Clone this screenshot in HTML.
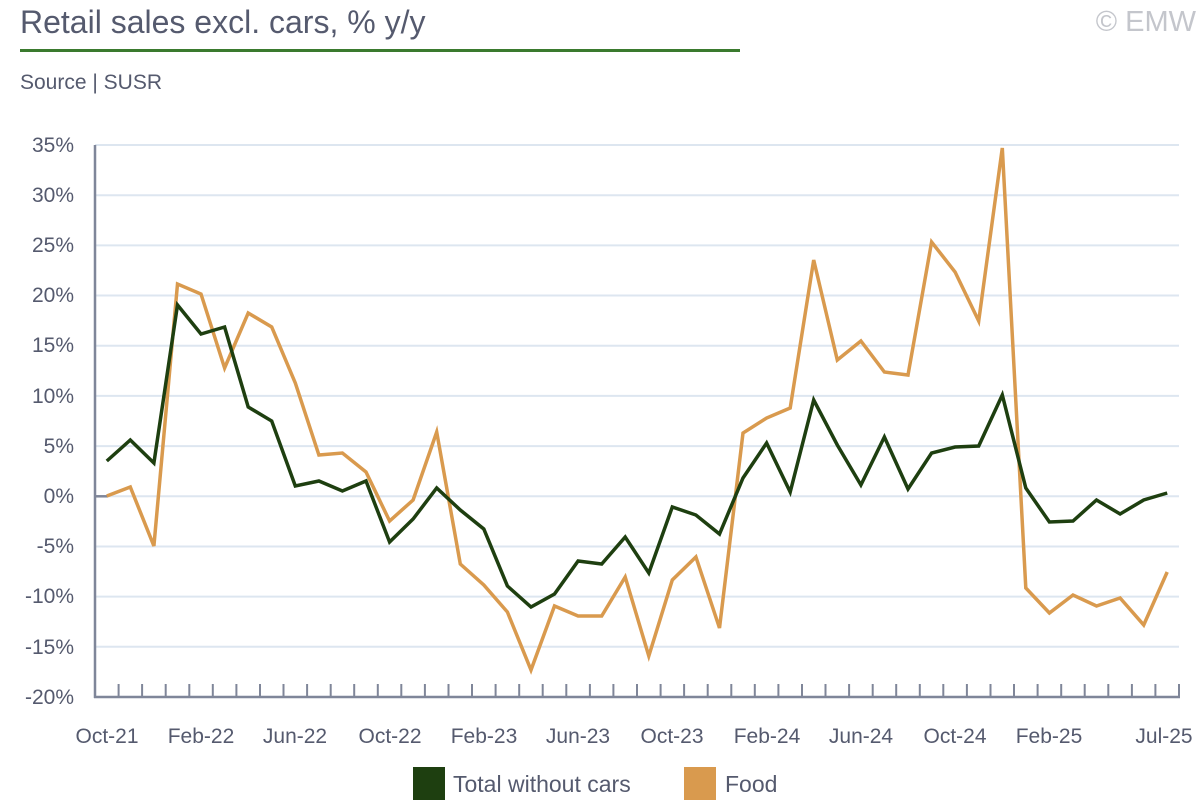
<!DOCTYPE html>
<html><head><meta charset="utf-8"><style>
body{margin:0;background:#fff;width:1200px;height:800px;overflow:hidden;font-family:"Liberation Sans",sans-serif}
</style></head><body>
<svg width="1200" height="800" xmlns="http://www.w3.org/2000/svg" font-family="Liberation Sans, sans-serif">
<text x="20" y="33" font-size="32" fill="#555a6e">Retail sales excl. cars, % y/y</text>
<rect x="20" y="49" width="720" height="3" fill="#3a7a2e"/>
<text x="1196" y="31" font-size="29" fill="#c4c6cc" text-anchor="end">© EMW</text>
<text x="20" y="89" font-size="21" fill="#555a6e">Source | SUSR</text>
<g stroke="#dde6f0" stroke-width="2">
<line x1="95" x2="1179" y1="145" y2="145"/><line x1="95" x2="1179" y1="195.2" y2="195.2"/>
<line x1="95" x2="1179" y1="245.4" y2="245.4"/><line x1="95" x2="1179" y1="295.5" y2="295.5"/>
<line x1="95" x2="1179" y1="345.7" y2="345.7"/><line x1="95" x2="1179" y1="395.9" y2="395.9"/>
<line x1="95" x2="1179" y1="446.1" y2="446.1"/><line x1="95" x2="1179" y1="496.3" y2="496.3"/>
<line x1="95" x2="1179" y1="546.5" y2="546.5"/><line x1="95" x2="1179" y1="596.6" y2="596.6"/>
<line x1="95" x2="1179" y1="646.8" y2="646.8"/>
</g>
<g font-size="21" fill="#555a6e" text-anchor="end">
<text x="74" y="152">35%</text><text x="74" y="202">30%</text><text x="74" y="252">25%</text>
<text x="74" y="302">20%</text><text x="74" y="352">15%</text><text x="74" y="403">10%</text>
<text x="74" y="453">5%</text><text x="74" y="503">0%</text><text x="74" y="553">-5%</text>
<text x="74" y="603">-10%</text><text x="74" y="654">-15%</text><text x="74" y="704">-20%</text>
</g>
<g stroke="#7f8699" stroke-width="2.5" fill="none">
<line x1="95" y1="145" x2="95" y2="698"/>
<line x1="94" y1="697" x2="1180" y2="697"/>
<line x1="95" y1="496.3" x2="108" y2="496.3"/>
</g>
<g id="tk" stroke="#7f8699" stroke-width="2"></g>
<g font-size="21" fill="#555a6e" text-anchor="middle">
<text x="107" y="743">Oct-21</text><text x="201" y="743">Feb-22</text><text x="295" y="743">Jun-22</text>
<text x="390" y="743">Oct-22</text><text x="484" y="743">Feb-23</text><text x="578" y="743">Jun-23</text>
<text x="672" y="743">Oct-23</text><text x="767" y="743">Feb-24</text><text x="861" y="743">Jun-24</text>
<text x="955" y="743">Oct-24</text><text x="1049" y="743">Feb-25</text><text x="1164" y="743">Jul-25</text>
</g>
<polyline id="food" fill="none" stroke="#d99a4e" stroke-width="3.5" stroke-linejoin="miter" points=""/>
<polyline id="tot" fill="none" stroke="#1e3f10" stroke-width="3.5" stroke-linejoin="miter" points=""/>
<rect x="413" y="767" width="32" height="33" fill="#1e3f10"/>
<text x="453" y="792" font-size="23" fill="#555a6e">Total without cars</text>
<rect x="684" y="767" width="32" height="33" fill="#d99a4e"/>
<text x="725" y="792" font-size="23" fill="#555a6e">Food</text>
</svg>
<script>
var tot=[461,440,463,305,334,327,407,421,486,481,491,481,542,519,488,510,529,586,607,594,561,564,537,573,507,515,534,478,443,492,400,445,485,437,489,453,447,446,395,488,522,521,500,514,500,493];
var food=[496,487,546,284,294,368,313,327,383,455,453,472,521,500,432,564,585,612,670,606,616,616,577,656,580,557,628,433,418,408,260,360,341,372,375,242,272,321,148,588,613,595,606,598,625,572];
var s=1084/46;
function pts(a){return a.map(function(y,i){return (95+s*(i+0.5)).toFixed(1)+","+y}).join(" ")}
document.getElementById("tot").setAttribute("points",pts(tot));
document.getElementById("food").setAttribute("points",pts(food));
var g=document.getElementById("tk"),h="";
for(var i=1;i<=46;i++){var x=(95+s*i).toFixed(1);h+='<line x1="'+x+'" x2="'+x+'" y1="684" y2="697"/>';}
g.innerHTML=h;
</script>
</body></html>
